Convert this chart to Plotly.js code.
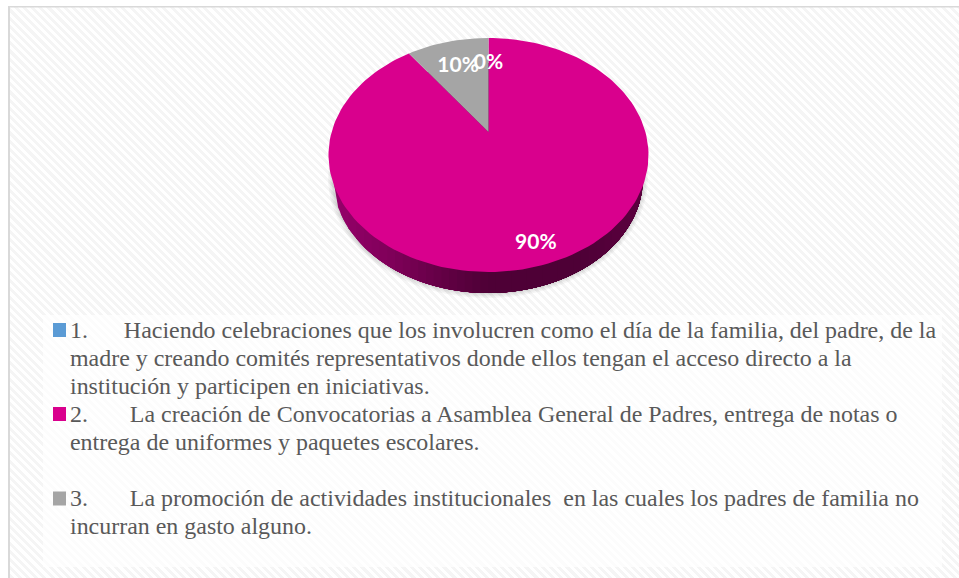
<!DOCTYPE html>
<html>
<head>
<meta charset="utf-8">
<script src="https://cdn.plot.ly/plotly-3.0.1.min.js"></script>
<style>
html,body{margin:0;padding:0;background:#fff;width:959px;height:578px;overflow:hidden}
#hatch{position:absolute;left:10px;top:7px;width:949px;height:571px;
background:repeating-linear-gradient(45deg,#f5f5f5 0,#f5f5f5 2.9px,#ffffff 2.9px,#ffffff 5.8px)}
#chart{position:absolute;left:0;top:0;width:959px;height:578px}
</style>
</head>
<body>
<div id="hatch"></div>
<div id="chart"></div>
<script>
var sliceNames = ["Opción 1", "Opción 2", "Opción 3"];
var sliceValues = [0, 90, 10];
var sliceLabels = ["0%", "90%", "10%"];
var sliceColors = ["#5B9BD5", "#D9008D", "#A5A5A5"];
var legendLines1 = [
  "1.\u00A0\u00A0\u00A0\u00A0\u00A0 Haciendo celebraciones que los involucren como el día de la familia, del padre, de la",
  "madre y creando comités representativos donde ellos tengan el acceso directo a la",
  "institución y participen en iniciativas."
];
var legendLines2 = [
  "2.\u00A0\u00A0\u00A0\u00A0\u00A0\u00A0 La creación de Convocatorias a Asamblea General de Padres, entrega de notas o",
  "entrega de uniformes y paquetes escolares."
];
var legendLines3 = [
  "3.\u00A0\u00A0\u00A0\u00A0\u00A0\u00A0 La promoción de actividades institucionales\u00A0 en las cuales los padres de familia no",
  "incurran en gasto alguno."
];

// perspective projection of the pie disc onto the 959x578 plot
var apexX = 488.5, apexY = 132, tilt = 0.1966, scaleX = 156.9, scaleY = 112.5;
function project(r, deg) {
  var a = deg * Math.PI / 180, X = r * Math.sin(a), Y = r * Math.cos(a), w = 1 + tilt * Y;
  return [apexX + scaleX * X / w, apexY - scaleY * Y / w];
}
var traces = [];
function poly(xs, ys, color, name) {
  traces.push({type: "scatter", mode: "lines", x: xs, y: ys, fill: "toself", fillcolor: color,
    line: {color: color, width: 0}, hoverinfo: "skip", showlegend: false, name: name || ""});
}
// soft shadow and wall
var wall = {cx: 488, cy: 178, rx: 155, ry: 115};
function ellipse(cx, cy, rx, ry) {
  var xs = [], ys = [];
  for (var d = 0; d <= 360; d += 3) {
    xs.push(cx + rx * Math.cos(d * Math.PI / 180));
    ys.push(cy + ry * Math.sin(d * Math.PI / 180));
  }
  return [xs, ys];
}
[5, 3.5, 2, 1].forEach(function (g) {
  var e = ellipse(wall.cx, wall.cy, wall.rx + g, wall.ry + g);
  poly(e[0], e[1], "rgba(0,0,0,0.04)");
});
var wallStops = [[0, [150, 0, 106]], [0.2, [125, 0, 88]], [0.38, [95, 0, 66]], [0.5, [78, 0, 54]], [0.8, [78, 0, 54]], [1, [92, 0, 62]]];
function wallColor(t) {
  for (var i = 1; i < wallStops.length; i++) {
    if (t <= wallStops[i][0]) {
      var a = wallStops[i - 1], b = wallStops[i], f = (t - a[0]) / (b[0] - a[0]);
      return "rgb(" + [0, 1, 2].map(function (c) { return Math.round(a[1][c] + f * (b[1][c] - a[1][c])); }).join(",") + ")";
    }
  }
  return "rgb(92,0,62)";
}
// painter's gradient: each band covers everything from its left edge to the right end
var bands = 40;
for (var s = 0; s < bands; s++) {
  var xs = [], ys = [], lo = [], n = 60, k;
  for (k = 0; k <= n; k++) {
    var u0 = -1 + 2 * s / bands;
    var u = u0 + (1 - u0) * k / n;
    var h = wall.ry * Math.sqrt(Math.max(0, 1 - u * u));
    xs.push(wall.cx + wall.rx * u); ys.push(wall.cy + h);
    lo.push([wall.cx + wall.rx * u, wall.cy - h]);
  }
  lo.reverse().forEach(function (p) { xs.push(p[0]); ys.push(p[1]); });
  xs.push(xs[0]); ys.push(ys[0]);
  poly(xs, ys, wallColor((s + 0.5) / bands));
}
// top face, clockwise from 12 o'clock
var total = sliceValues.reduce(function (a, b) { return a + b; }, 0), start = 0, labelX = [], labelY = [];
sliceValues.forEach(function (v, i) {
  var sweep = 360 * v / total, xs = [apexX], ys = [apexY], n = Math.max(1, Math.ceil(sweep / 2));
  for (var j = 0; j <= n; j++) {
    var p = project(1, start + sweep * j / n);
    xs.push(p[0]); ys.push(p[1]);
  }
  xs.push(apexX); ys.push(apexY);
  poly(xs, ys, sliceColors[i], sliceNames[i]);
  var lp = project(v >= 50 ? 0.856 : 0.71, start + sweep / 2);
  labelX.push(lp[0] - (v >= 50 ? 2 : 0)); labelY.push(lp[1] + (v >= 50 ? 3 : 2));
  start += sweep;
});
traces.push({type: "scatter", mode: "text", x: labelX, y: labelY, text: sliceLabels, textposition: "middle center",
  textfont: {family: "Lato, 'Open Sans', sans-serif", size: 21, color: "#ffffff", weight: 700},
  hoverinfo: "skip", showlegend: false, cliponaxis: false});

var shapes = [
  {type: "rect", xref: "x", yref: "y", x0: 43, x1: 942, y0: 315, y1: 567, fillcolor: "rgba(255,255,255,0.72)", line: {width: 0}, layer: "below"},
  {type: "rect", xref: "x", yref: "y", x0: 8, x1: 10, y0: 6, y1: 578, fillcolor: "#D9D9D9", line: {width: 0}, layer: "below"},
  {type: "rect", xref: "x", yref: "y", x0: 8, x1: 959, y0: 6, y1: 7.5, fillcolor: "#D9D9D9", line: {width: 0}, layer: "below"}
];
var swatchTops = [323, 407, 491.5];
var legendBaselines = [[330, 358, 385.5], [414, 442], [498, 526]];
var annotations = [];
[legendLines1, legendLines2, legendLines3].forEach(function (lines, i) {
  shapes.push({type: "rect", xref: "x", yref: "y", x0: 53, x1: 66, y0: swatchTops[i], y1: swatchTops[i] + 14, fillcolor: sliceColors[i], line: {width: 0}, layer: "above"});
  lines.forEach(function (t, j) {
    annotations.push({xref: "x", yref: "y", x: 68, y: legendBaselines[i][j], xanchor: "left", yanchor: "middle", align: "left", showarrow: false, text: t,
      font: {family: "'Liberation Serif', serif", size: 23.95, color: "#595959"}});
  });
});

Plotly.newPlot("chart", traces, {
  width: 959, height: 578, margin: {l: 0, r: 0, t: 0, b: 0},
  paper_bgcolor: "rgba(0,0,0,0)", plot_bgcolor: "rgba(0,0,0,0)",
  xaxis: {range: [0, 959], visible: false, fixedrange: true},
  yaxis: {range: [578, 0], visible: false, fixedrange: true},
  shapes: shapes, annotations: annotations, showlegend: false
}, {displayModeBar: false, staticPlot: true});
</script>
</body>
</html>
